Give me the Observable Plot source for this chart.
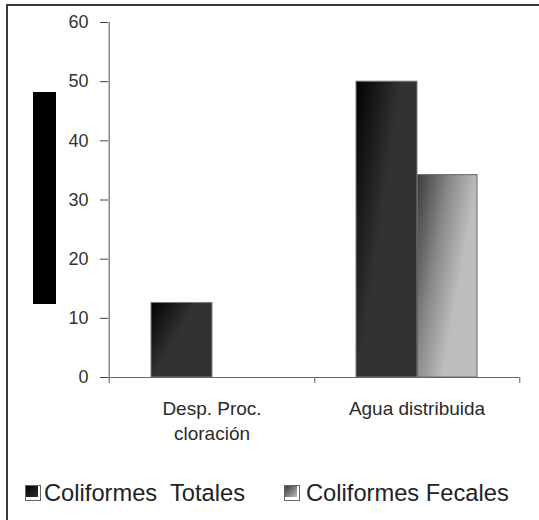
<!DOCTYPE html>
<html>
<head>
<meta charset="utf-8">
<script src="https://cdn.jsdelivr.net/npm/d3@7"></script>
<script src="https://cdn.jsdelivr.net/npm/@observablehq/plot@0.6"></script>
<style>
  body { margin: 0; background: #fff; font-family: "Liberation Sans", Arial, sans-serif; }
  #wrap { position: relative; width: 539px; height: 520px; overflow: hidden; background: #fff; }
  #border { position: absolute; left: 6px; top: 4px; width: 700px; height: 700px;
            border-left: 2px solid #3a3a3a; border-top: 2px solid #3a3a3a; box-sizing: border-box; }
  #chart { position: absolute; left: 0; top: 0; }
  #blackbox { position: absolute; left: 33px; top: 92px; width: 23px; height: 212px; background: #000; }
  .leg { position: absolute; top: 480px; font-size: 23.7px; color: #222; white-space: pre; line-height: 26px; }
  .sw { position: absolute; top: 485px; width: 16px; height: 16px; box-sizing: border-box;
        border: 1px solid #666; background: #fff; }
  .sw i { position: absolute; left: 0; top: 0; width: 12px; height: 11px; }
</style>
</head>
<body>
<div id="wrap">
  <div id="border"></div>
  <div id="chart"></div>
  <div id="blackbox"></div>
  <div class="sw" style="left:25px"><i style="background:linear-gradient(135deg,#000,#333)"></i></div>
  <div class="leg" id="leg1" style="left:44px"></div>
  <div class="sw" style="left:284px"><i style="background:linear-gradient(135deg,#3a3a3a,#bbb)"></i></div>
  <div class="leg" id="leg2" style="left:306px"></div>
</div>
<script>
const categories = ["Desp. Proc.\ncloración", "Agua distribuida"];
const series = ["Coliformes  Totales", "Coliformes Fecales"];
const totales = [12.6, 50];
const fecales = [0, 34.2];
const yTicks = [0, 10, 20, 30, 40, 50, 60];

const rowsT = categories.map((c, i) => ({cat: c, serie: series[0], value: totales[i]})).filter(d => d.value > 0);
const rowsF = categories.map((c, i) => ({cat: c, serie: series[1], value: fecales[i]})).filter(d => d.value > 0);

const W = 539, H = 460, mL = 108, mR = 20, mT = 22, mB = 83;
const bw = (W - mL - mR) / categories.length;

const plot = Plot.plot({
  width: W, height: H,
  marginLeft: mL, marginRight: mR, marginTop: mT, marginBottom: mB,
  style: {fontFamily: "'Liberation Sans', Arial, sans-serif", background: "transparent", overflow: "visible"},
  x: {type: "band", domain: categories, padding: 0, axis: null},
  y: {domain: [0, 60], axis: null},
  marks: [
    Plot.barY(rowsT, {x: "cat", y: "value", fill: "url(#gT)", stroke: "#7d7d7d", strokeWidth: 1,
                      insetLeft: 42, insetRight: 102}),
    Plot.barY(rowsF, {x: "cat", y: "value", fill: "url(#gF)", stroke: "#666", strokeWidth: 1,
                      insetLeft: 103.5, insetRight: 42}),
    Plot.ruleY([0], {stroke: "#666", strokeWidth: 1.2}),
    Plot.ruleX([categories[0]], {dx: -bw / 2, y1: -1, y2: 60, stroke: "#888", strokeWidth: 1.5}),
    Plot.ruleX(categories, {dx: bw / 2, y1: 0, y2: -1, stroke: "#777", strokeWidth: 1.2}),
    Plot.axisY({ticks: yTicks, label: null, tickSize: 8, tickPadding: 12, fontSize: 18, stroke: "#444", color: "#333"}),
    Plot.text(categories, {x: d => d, y: 0, dy: 20, lineAnchor: "top", fontSize: 19, lineHeight: 1.32, fill: "#2a2a2a"})
  ]
});

const svg = d3.select(plot);
const defs = svg.insert("defs", ":first-child");
const gT = defs.append("linearGradient").attr("id", "gT")
  .attr("x1", 0).attr("y1", 0).attr("x2", 0.5).attr("y2", 0.35);
gT.append("stop").attr("offset", 0).attr("stop-color", "#020202");
gT.append("stop").attr("offset", 1).attr("stop-color", "#323232");
const gF = defs.append("linearGradient").attr("id", "gF")
  .attr("x1", 0).attr("y1", 0).attr("x2", 0.75).attr("y2", 0.45);
gF.append("stop").attr("offset", 0).attr("stop-color", "#3c3c3c");
gF.append("stop").attr("offset", 0.55).attr("stop-color", "#8a8a8a");
gF.append("stop").attr("offset", 1).attr("stop-color", "#bdbdbd");

document.getElementById("chart").appendChild(plot);
document.getElementById("leg1").textContent = series[0];
document.getElementById("leg2").textContent = series[1];
</script>
</body>
</html>
